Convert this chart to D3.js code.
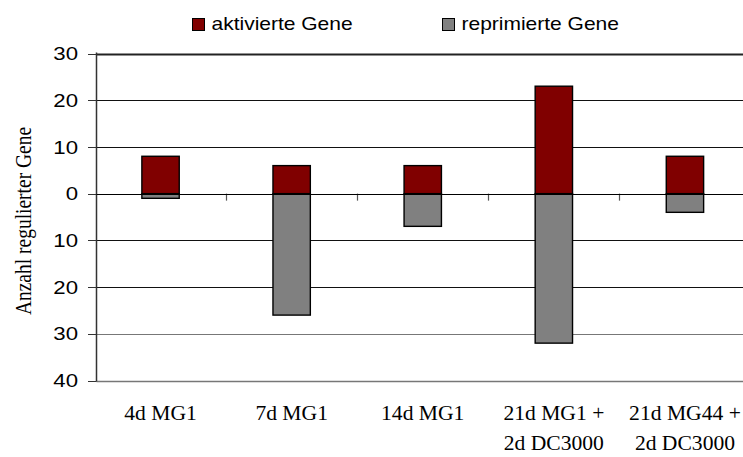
<!DOCTYPE html>
<html>
<head>
<meta charset="utf-8">
<script src="https://cdn.jsdelivr.net/npm/d3@7/dist/d3.min.js"></script>
<style>
  html, body { margin: 0; padding: 0; background: #fff; }
  svg { display: block; }
</style>
</head>
<body>
<svg id="chart" width="743" height="457"></svg>
<script>
// Regulated genes per treatment: activated (up) and repressed (down)
const categories = [
  ["4d MG1"],
  ["7d MG1"],
  ["14d MG1"],
  ["21d MG1 +", "2d DC3000"],
  ["21d MG44 +", "2d DC3000"]
];
const activated = [8, 6, 6, 23, 8];
const repressed = [1, 26, 7, 32, 4];
const yTicks = [30, 20, 10, 0, -10, -20, -30, -40];
const seriesNames = ["aktivierte Gene", "reprimierte Gene"];
const seriesColors = ["#800000", "#808080"];

const svg = d3.select("#chart");
const keys = categories.map(c => c.join(" "));

const x = d3.scaleBand().domain(keys).range([95, 750.5]).padding(0);
const y = d3.scaleLinear().domain([-40, 30]).range([380.5, 53.5]);
const barW = x.bandwidth() * 0.285;
const SX = 1.2; // horizontal text stretch

const axisX = 96.5;

// horizontal grid lines
const gridColor = v => (v <= -30 ? "#777" : "#111");
svg.append("g").selectAll("line").data(yTicks).join("line")
  .attr("x1", axisX).attr("x2", 743)
  .attr("y1", d => Math.round(y(d)) + 0.5)
  .attr("y2", d => Math.round(y(d)) + 0.5)
  .attr("stroke", d => d === 30 ? "#222" : gridColor(d))
  .attr("stroke-width", d => d === 30 ? 2 : (d === -40 ? 1.5 : 1));

// y axis line and ticks
svg.append("line")
  .attr("x1", axisX).attr("x2", axisX)
  .attr("y1", y(30) - 1).attr("y2", y(-40) + 1)
  .attr("stroke", "#333").attr("stroke-width", 1.5);
svg.append("g").selectAll("line").data(yTicks).join("line")
  .attr("x1", 88).attr("x2", axisX)
  .attr("y1", d => Math.round(y(d)) + 0.5)
  .attr("y2", d => Math.round(y(d)) + 0.5)
  .attr("stroke", "#333").attr("stroke-width", 1);

// y tick labels (absolute counts)
svg.append("g").selectAll("text").data(yTicks).join("text")
  .attr("transform", d => `translate(78,${y(d)}) scale(${SX},1)`)
  .attr("text-anchor", "end")
  .attr("dy", "0.36em")
  .attr("font-family", "Liberation Sans, Arial, sans-serif")
  .attr("font-size", 18.5)
  .attr("fill", "#000")
  .text(d => Math.abs(d));

// category separator ticks below the zero line
const bounds = keys.slice(1).map(k => x(k));
svg.append("g").selectAll("line").data(bounds).join("line")
  .attr("x1", d => Math.round(d) + 0.5).attr("x2", d => Math.round(d) + 0.5)
  .attr("y1", y(0)).attr("y2", y(0) + 7)
  .attr("stroke", "#555").attr("stroke-width", 1.2);

// bars
const bars = svg.append("g");
keys.forEach((k, i) => {
  const cx = x(k) + x.bandwidth() / 2;
  bars.append("rect")
    .attr("x", cx - barW / 2).attr("width", barW)
    .attr("y", y(0)).attr("height", y(-repressed[i]) - y(0))
    .attr("fill", seriesColors[1])
    .attr("stroke", "#000").attr("stroke-width", 1.4);
  bars.append("rect")
    .attr("x", cx - barW / 2).attr("width", barW)
    .attr("y", y(activated[i])).attr("height", y(0) - y(activated[i]))
    .attr("fill", seriesColors[0])
    .attr("stroke", "#000").attr("stroke-width", 1.4);
});

// zero line
svg.append("line")
  .attr("x1", axisX).attr("x2", 743)
  .attr("y1", Math.round(y(0)) + 0.5).attr("y2", Math.round(y(0)) + 0.5)
  .attr("stroke", "#000").attr("stroke-width", 1.2);

// category labels
const cat = svg.append("g");
categories.forEach((lines, i) => {
  const cx = x(keys[i]) + x.bandwidth() / 2;
  lines.forEach((t, j) => {
    cat.append("text")
      .attr("transform", `translate(${cx},${420 + j * 30}) scale(1.08,1)`)
      .attr("text-anchor", "middle")
      .attr("font-family", "Liberation Serif, Times New Roman, serif")
      .attr("font-size", 20)
      .attr("fill", "#000")
      .text(t);
  });
});

// y axis title
svg.append("text")
  .attr("transform", `translate(31,221) scale(${SX},1) rotate(-90)`)
  .attr("text-anchor", "middle")
  .attr("font-family", "Liberation Serif, Times New Roman, serif")
  .attr("font-size", 19.5)
  .attr("fill", "#000")
  .text("Anzahl regulierter Gene");

// legend
const legendX = [192, 442];
const legend = svg.append("g");
seriesNames.forEach((name, i) => {
  legend.append("rect")
    .attr("x", legendX[i] + 0.5).attr("y", 18.5)
    .attr("width", 12).attr("height", 12)
    .attr("fill", seriesColors[i])
    .attr("stroke", "#000").attr("stroke-width", 1);
  legend.append("text")
    .attr("transform", `translate(${legendX[i] + 19.5},29.5) scale(${SX},1)`)
    .attr("font-family", "Liberation Sans, Arial, sans-serif")
    .attr("font-size", 17.5)
    .attr("fill", "#000")
    .text(name);
});
</script>
</body>
</html>
